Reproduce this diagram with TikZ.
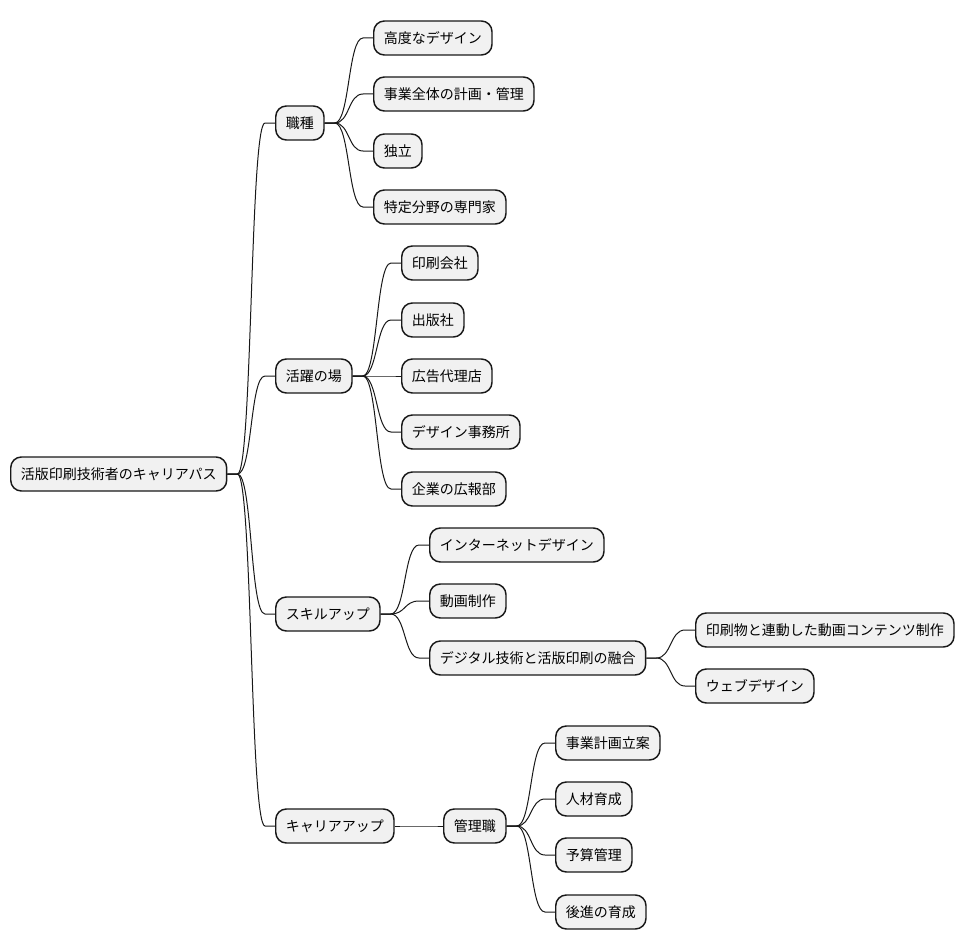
\documentclass[tikz,border=0pt]{standalone}
\usepackage{fontspec}
\newfontfamily\jpfont{Noto Sans CJK JP}
\usetikzlibrary{calc}
\definecolor{boxfill}{HTML}{F1F1F1}
\definecolor{boxline}{HTML}{181818}
\tikzset{
  mmbox/.style={draw=boxline, fill=boxfill, line width=1.1pt, rounded corners=8pt,
    inner xsep=7.6pt, inner ysep=0pt, minimum height=25.5pt, anchor=west,
    font=\jpfont\fontsize{10.5pt}{12pt}\selectfont},
  mmlink/.style={draw=boxline, line width=0.75pt}
}
% curved branch from parent (east) to child (west)
\newcommand\mmlink[2]{%
  \draw[mmlink] (#1.east) -- ++(10,0) .. controls +(15,0) and ($(#2.west)+(-25,0)$)
    .. ($(#2.west)+(-10,0)$) -- (#2.west);}
\begin{document}
\begin{tikzpicture}[x=0.75pt, y=-0.75pt]
\useasboundingbox (0,0) rectangle (964,949);
% ---- root and first level ----
\node[mmbox] (root) at (10,474) {活版印刷技術者のキャリアパス};
\node[mmbox] (jobs) at (275,123) {職種};
\node[mmbox] (fields) at (275,376) {活躍の場};
\node[mmbox] (skill) at (275,614) {スキルアップ};
\node[mmbox] (career) at (275,826) {キャリアアップ};
% ---- 職種 ----
\node[mmbox] (job1) at (373,38) {高度なデザイン};
\node[mmbox] (job2) at (373,94) {事業全体の計画・管理};
\node[mmbox] (job3) at (373,151) {独立};
\node[mmbox] (job4) at (373,207) {特定分野の専門家};
% ---- 活躍の場 ----
\node[mmbox] (field1) at (401,263) {印刷会社};
\node[mmbox] (field2) at (401,320) {出版社};
\node[mmbox] (field3) at (401,376) {広告代理店};
\node[mmbox] (field4) at (401,432) {デザイン事務所};
\node[mmbox] (field5) at (401,489) {企業の広報部};
% ---- スキルアップ ----
\node[mmbox] (skill1) at (429,545) {インターネットデザイン};
\node[mmbox] (skill2) at (429,601) {動画制作};
\node[mmbox] (skill3) at (429,658) {デジタル技術と活版印刷の融合};
\node[mmbox] (fuse1) at (695,630) {印刷物と連動した動画コンテンツ制作};
\node[mmbox] (fuse2) at (695,686) {ウェブデザイン};
% ---- キャリアアップ ----
\node[mmbox] (manager) at (443,826) {管理職};
\node[mmbox] (mgr1) at (555,743) {事業計画立案};
\node[mmbox] (mgr2) at (555,799) {人材育成};
\node[mmbox] (mgr3) at (555,855) {予算管理};
\node[mmbox] (mgr4) at (555,912) {後進の育成};
% ---- branches ----
\foreach \c in {jobs,fields,skill,career} {\mmlink{root}{\c}}
\foreach \c in {job1,job2,job3,job4} {\mmlink{jobs}{\c}}
\foreach \c in {field1,field2,field3,field4,field5} {\mmlink{fields}{\c}}
\foreach \c in {skill1,skill2,skill3} {\mmlink{skill}{\c}}
\foreach \c in {fuse1,fuse2} {\mmlink{skill3}{\c}}
\mmlink{career}{manager}
\foreach \c in {mgr1,mgr2,mgr3,mgr4} {\mmlink{manager}{\c}}
\end{tikzpicture}
\end{document}
